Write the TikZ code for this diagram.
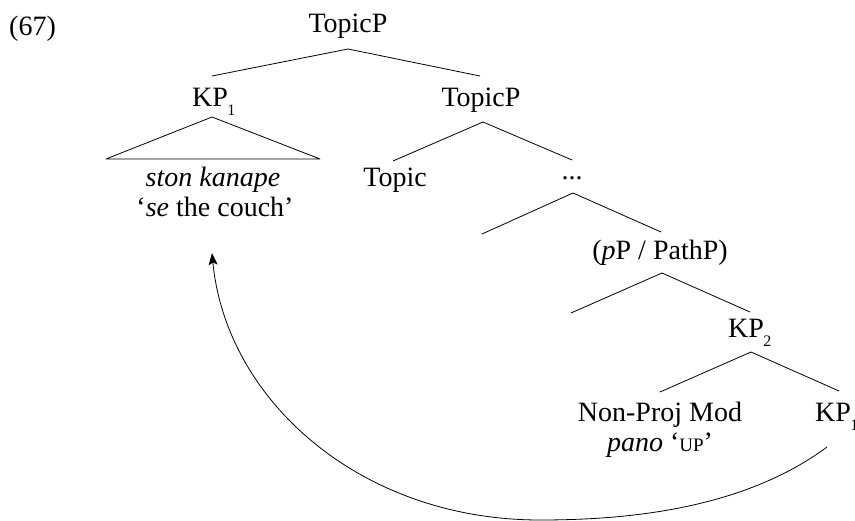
\documentclass[tikz,border=0pt]{standalone}
\usepackage{fontspec}
\setmainfont{Liberation Serif}
\usetikzlibrary{arrows.meta}
% lowered subscript index on phrase labels
\newcommand\idx[1]{\kern-0.5pt\raisebox{-9pt}{\fontsize{16}{16}\selectfont #1}}
% faked small capitals for glosses
\newcommand\gsc[1]{{\fontsize{19}{19}\selectfont #1}}
\tikzset{
  lbl/.style={inner sep=0pt, anchor=base, font=\fontsize{28}{33}\selectfont},
  branch/.style={line width=0.8pt, line join=round},
  mvarrow/.style={line width=0.8pt, -{Stealth[length=12pt,width=9pt,inset=2.5pt]}}
}
\begin{document}
\begin{tikzpicture}[x=1pt,y=-1pt]
\useasboundingbox (0,0) rectangle (855,521);

% example number
\node[lbl, anchor=base west] (num) at (9,36) {(67)};

% labels
\node[lbl] (root) at (348,33) {TopicP};
\node[lbl, anchor=base west] (kpa) at (192,107) {KP\idx{1}};
\node[lbl] (topp) at (481,107) {TopicP};
\node[lbl] (ston) at (213,187) {\itshape ston kanape};
\node[lbl] (gloss) at (215,217) {‘\textit{se} the couch’};
\node[lbl] (topic) at (395,187) {Topic};
\node[lbl] (dots) at (572,180) {...};
\node[lbl] (path) at (660,260) {(\textit{p}P / PathP)};
\node[lbl, anchor=base west] (kpb) at (728,338) {KP\idx{2}};
\node[lbl] (mod) at (660,422) {Non-Proj Mod};
\node[lbl] (pano) at (660,452) {\textit{pano} ‘\gsc{UP}’};
\node[lbl, anchor=base west] (kpc) at (815,422) {KP\idx{1}};

% branch points
\coordinate (r0) at (348,49);
\coordinate (r1) at (212,76);
\coordinate (r2) at (480,76);
\coordinate (k0) at (212,117);
\coordinate (k1) at (106,159);
\coordinate (k2) at (320,159);
\coordinate (t0) at (483,122);
\coordinate (t1) at (393,161);
\coordinate (t2) at (572,160);
\coordinate (d0) at (573,193);
\coordinate (d1) at (482,234);
\coordinate (d2) at (661,232);
\coordinate (p0) at (662,273);
\coordinate (p1) at (571,313);
\coordinate (p2) at (750,312);
\coordinate (b0) at (751,352);
\coordinate (b1) at (660,392);
\coordinate (b2) at (839,391);

% tree branches
\draw[branch] (r1) -- (r0) -- (r2);
\draw[branch] (k0) -- (k1) -- (k2) -- cycle;
\draw[branch] (t1) -- (t0) -- (t2);
\draw[branch] (d1) -- (d0) -- (d2);
\draw[branch] (p1) -- (p0) -- (p2);
\draw[branch] (b1) -- (b0) -- (b2);

% movement arrow from the low KP to the fronted KP
\coordinate (mvs) at (827,447);
\coordinate (mvm) at (540,520);
\coordinate (mve) at (212,253);
\draw[mvarrow] (mvs) .. controls (742,510) and (625,520) .. (mvm)
  .. controls (360,520) and (226,400) .. (mve);
\end{tikzpicture}
\end{document}
